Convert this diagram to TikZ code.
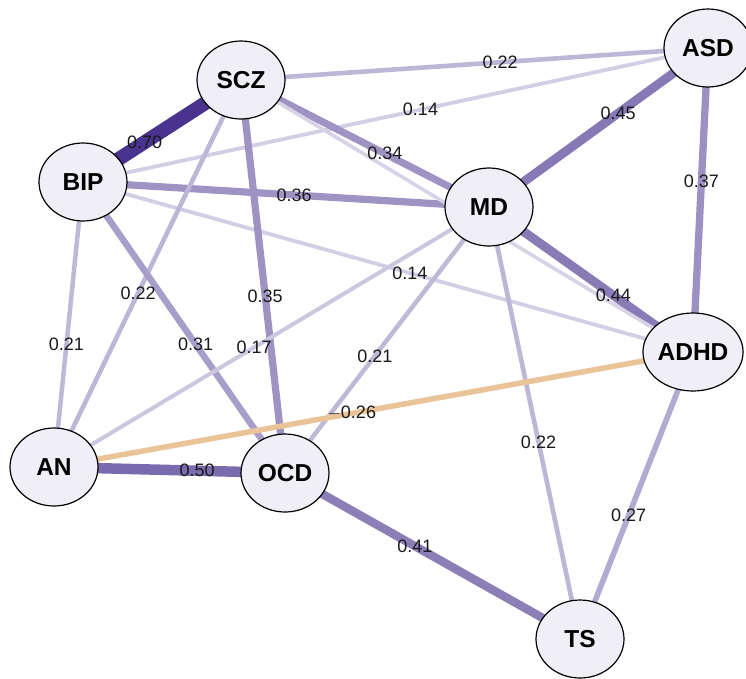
\documentclass[tikz,border=0pt]{standalone}
\usepackage{fontspec}
\setmainfont{Liberation Sans}
\usetikzlibrary{shapes.geometric}
\definecolor{purp}{RGB}{72,52,142}
\definecolor{negc}{RGB}{232,196,152}
\definecolor{nodefill}{RGB}{240,239,247}
\pgfdeclarelayer{edgelayer}
\pgfdeclarelayer{labellayer}
\pgfsetlayers{edgelayer,labellayer,main}
\tikzset{
  dis/.style={ellipse, draw=black, line width=1.2pt, fill=nodefill,
    minimum width=88pt, minimum height=78pt, inner sep=0pt,
    font=\bfseries\fontsize{24.5}{28}\selectfont},
  wlabel/.style={font=\fontsize{18}{20}\selectfont, inner sep=0pt, text=black!90},
}
% \conn{from}{to}{width}{colour}{pos}{label}
\newcommand\conn[6]{%
  \begin{pgfonlayer}{edgelayer}
    \draw[line width=#3pt, #4] (#1.center) -- (#2.center);
  \end{pgfonlayer}
  \begin{pgfonlayer}{labellayer}
    \path (#1.center) -- (#2.center) node[wlabel, pos=#5] {#6};
  \end{pgfonlayer}}
\newcommand\connnl[4]{%
  \begin{pgfonlayer}{edgelayer}
    \draw[line width=#3pt, #4] (#1.center) -- (#2.center);
  \end{pgfonlayer}}
\begin{document}
\begin{tikzpicture}[x=1pt,y=-1pt]
\useasboundingbox (0,0) rectangle (746,678);
\node[dis] (SCZ) at (241,80) {SCZ};
\node[dis] (ASD) at (708,48) {ASD};
\node[dis] (BIP) at (83,182) {BIP};
\node[dis] (MD) at (489,207) {MD};
\node[dis] (ADHD) at (693,352) {ADHD};
\node[dis] (AN) at (54,467) {AN};
\node[dis] (OCD) at (285,473) {OCD};
\node[dis] (TS) at (580,639) {TS};

\conn{SCZ}{ASD}{4.6}{purp!36}{0.555}{0.22}
\conn{BIP}{ASD}{3.8}{purp!24}{0.54}{0.14}
\conn{SCZ}{BIP}{14}{purp!100}{0.61}{0.70}
\conn{SCZ}{MD}{7.2}{purp!53}{0.58}{0.34}
\conn{ASD}{MD}{9}{purp!66}{0.41}{0.45}
\conn{ASD}{ADHD}{7.3}{purp!54}{0.44}{0.37}
\conn{BIP}{MD}{7.2}{purp!53}{0.52}{0.36}
\conn{BIP}{ADHD}{3.8}{purp!24}{0.536}{0.14}
\conn{MD}{ADHD}{9}{purp!65}{0.61}{0.44}
\connnl{SCZ}{ADHD}{3.6}{purp!22}
\conn{SCZ}{OCD}{7.2}{purp!53}{0.55}{0.35}
\conn{SCZ}{AN}{4.6}{purp!36}{0.55}{0.22}
\conn{BIP}{AN}{4.5}{purp!35}{0.57}{0.21}
\conn{BIP}{OCD}{6.5}{purp!48}{0.557}{0.31}
\conn{MD}{AN}{4}{purp!28}{0.54}{0.17}
\conn{MD}{OCD}{4.5}{purp!35}{0.56}{0.21}
\conn{MD}{TS}{4.6}{purp!36}{0.544}{0.22}
\conn{AN}{ADHD}{5.5}{negc}{0.466}{$-$0.26}
\conn{AN}{OCD}{10.5}{purp!73}{0.62}{0.50}
\conn{OCD}{TS}{8.5}{purp!63}{0.44}{0.41}
\conn{ADHD}{TS}{5.6}{purp!42}{0.57}{0.27}
\end{tikzpicture}
\end{document}
